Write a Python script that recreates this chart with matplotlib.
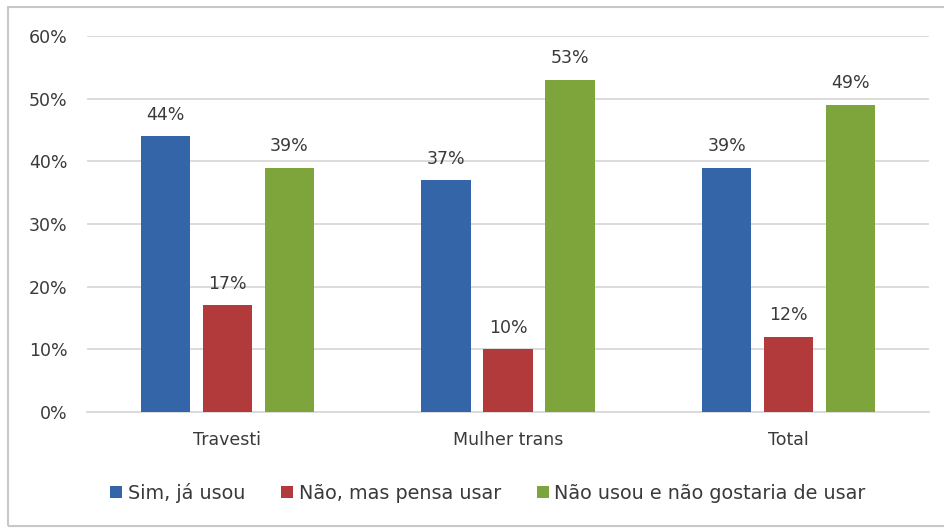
import numpy as np
import matplotlib
matplotlib.use("Agg")
import matplotlib.pyplot as plt
from matplotlib.patches import Rectangle

plt.rcParams['font.family'] = ['DejaVu Sans']

categories = ["Travesti", "Mulher trans", "Total"]
series = ["Sim, já usou", "Não, mas pensa usar", "Não usou e não gostaria de usar"]
sim = [44, 37, 39]
nao_pensa = [17, 10, 12]
nao_usou = [39, 53, 49]
colors = ["#3465a8", "#b23a3a", "#7ea43c"]
txt = "#3a3a3a"

fig = plt.figure(figsize=(9.44, 5.28), dpi=100)
ax = fig.add_axes([0.0922, 0.2197, 0.8919, 0.7121])

x = np.arange(len(categories))
w = 0.175
off = 0.221
for i, (vals, name, c) in enumerate(zip([sim, nao_pensa, nao_usou], series, colors)):
    pos = x + (i - 1) * off
    ax.bar(pos, vals, width=w, color=c, label=name, zorder=3)
    for p, v in zip(pos, vals):
        ax.annotate(f"{v}%", (p, v), xytext=(0, 9), textcoords="offset points",
                    ha="center", va="bottom", fontsize=12.5, color=txt)

ax.set_xlim(-0.5, 2.5)
ax.set_ylim(0, 60)
ax.set_yticks(range(0, 61, 10))
ax.set_yticklabels([f"{t}%" for t in range(0, 61, 10)])
ax.set_xticks(x)
ax.set_xticklabels(categories, fontsize=13.5)
ax.tick_params(axis="both", length=0, labelsize=12.5, colors=txt)
ax.tick_params(axis="x", pad=14)
ax.tick_params(axis="y", pad=14)
ax.grid(axis="y", color="#d9d9d9", linewidth=1.3, zorder=0)
for s in ["top", "right", "left"]:
    ax.spines[s].set_visible(False)
ax.spines["bottom"].set_color("#d9d9d9")
ax.spines["bottom"].set_linewidth(1.3)

leg = fig.legend(loc="center", bbox_to_anchor=(0.517, 0.066), ncol=3, frameon=False,
                 fontsize=13.8, handlelength=0.6, handleheight=0.6, handletextpad=0.3,
                 columnspacing=1.9)
for t in leg.get_texts():
    t.set_color(txt)

fig.patches.append(Rectangle((0.0085, 0.004), 1.0, 0.983, transform=fig.transFigure,
                             fill=False, edgecolor="#c8c8c8", linewidth=1.5))

fig.savefig("out.png", dpi=100)
